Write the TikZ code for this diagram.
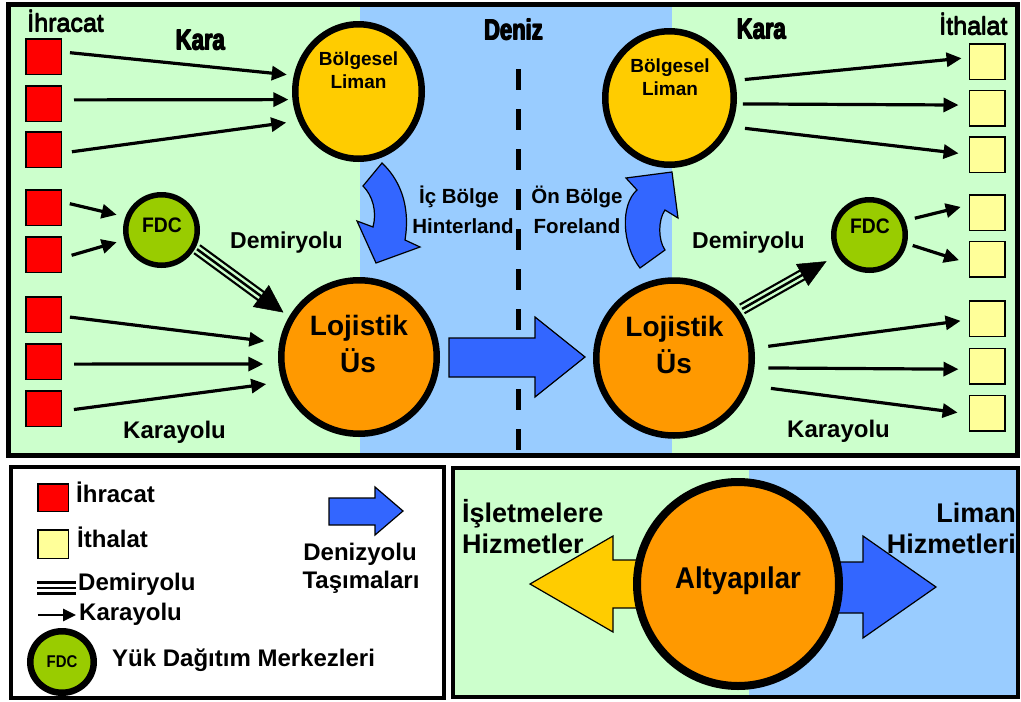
\documentclass[tikz,border=0pt]{standalone}
\usepackage{graphicx}
\usepackage{fontspec}
\setmainfont{Liberation Sans}
\usetikzlibrary{shapes.geometric,arrows.meta}
\definecolor{land}{HTML}{CCFFCC}
\definecolor{sea}{HTML}{99CCFF}
\definecolor{expred}{HTML}{FF0000}
\definecolor{impyel}{HTML}{FFFF99}
\definecolor{portyel}{HTML}{FFCC00}
\definecolor{huborg}{HTML}{FF9900}
\definecolor{fdcgrn}{HTML}{99CC00}
\definecolor{arrblue}{HTML}{3366FF}
\newcommand\bsz[1]{\bfseries\fontsize{#1}{#1}\selectfont}
\newcommand\rsz[1]{\mdseries\fontsize{#1}{#1}\selectfont}
\newcommand\heavy[2]{\makebox[0pt][l]{\hspace{#1}#2}\makebox[0pt][l]{\hspace{#1}\raisebox{0.4pt}{#2}}\makebox[0pt][l]{\raisebox{0.4pt}{#2}}#2}
\newcommand\cond[1]{\scalebox{0.76}[1]{\heavy{1.3pt}{#1}}}
\begin{document}
\begin{tikzpicture}[x=1pt,y=-1pt,
  sq/.style={draw=black, line width=1.5pt, minimum size=35.5pt, inner sep=0pt},
  exsq/.style={sq, fill=expred},
  imsq/.style={sq, fill=impyel},
  ell/.style={ellipse, draw=black, inner sep=0pt},
  road/.style={line width=3.2pt, -{Triangle[length=15pt,width=14pt]}},
  blk/.style={fill=arrblue, draw=black, line width=1.2pt, line join=miter},
  lbl/.style={inner sep=0pt, anchor=base},
  lblw/.style={inner sep=0pt, anchor=base west},
  lble/.style={inner sep=0pt, anchor=base east},
]
\fill[white] (0,0) rectangle (1021,702);
\useasboundingbox (0,0) rectangle (1021,702);

% ---------- top panel ----------
\fill[land] (8,4) rectangle (1017,455);
\fill[sea] (360,4) rectangle (672,455);
\draw[line width=5pt] (8,4) rectangle (1017,455);
\draw[line width=5pt, dash pattern=on 21pt off 19pt] (518,69) -- (518,451);

% squares
\node[exsq] (L1) at (43.5,56.5) {};
\node[exsq] (L2) at (43.5,103.5) {};
\node[exsq] (L3) at (43.5,149.5) {};
\node[exsq] (L4) at (43.5,207.5) {};
\node[exsq] (L5) at (43.5,254.5) {};
\node[exsq] (L6) at (43.5,314.5) {};
\node[exsq] (L7) at (43.5,361.5) {};
\node[exsq] (L8) at (43.5,408.5) {};
\node[imsq] (Y1) at (987,61.5) {};
\node[imsq] (Y2) at (987,108) {};
\node[imsq] (Y3) at (987,154.5) {};
\node[imsq] (Y4) at (987,212.5) {};
\node[imsq] (Y5) at (987,259) {};
\node[imsq] (Y6) at (987,318.5) {};
\node[imsq] (Y7) at (987,366) {};
\node[imsq] (Y8) at (987,413) {};

% circles
\node[ell, fill=portyel, line width=6.5pt, minimum width=126.5pt, minimum height=134.5pt] (BL) at (358.5,91.5) {};
\node[ell, fill=portyel, line width=6.5pt, minimum width=128.5pt, minimum height=133.5pt] (BR) at (669.5,98) {};
\node[ell, fill=huborg, line width=6.5pt, minimum width=155.5pt, minimum height=153.5pt] (LL) at (359,357) {};
\node[ell, fill=huborg, line width=6.5pt, minimum width=155.5pt, minimum height=155pt] (LR) at (674,358) {};
\node[ell, fill=fdcgrn, line width=5.5pt, minimum width=71.5pt, minimum height=70.5pt] (FL) at (161.5,230) {};
\node[ell, fill=fdcgrn, line width=5.5pt, minimum width=71.5pt, minimum height=70.5pt] (FR) at (869.5,235) {};

% road arrows left
\draw[road, shorten <=8pt, shorten >=7pt] (L1.14) -- (BL.166);
\draw[road, shorten <=12pt, shorten >=4pt] (L2.11) -- (BL.187);
\draw[road, shorten <=10pt, shorten >=12pt] (L3.349) -- (BL.206);
\draw[road, shorten <=8pt, shorten >=9pt] (L4.17) -- (FL.160);
\draw[road, shorten <=10pt, shorten >=8pt] (L5.349) -- (FL.195);
\draw[road, shorten <=8pt, shorten >=15pt] (L6.355) -- (LL.170);
\draw[road, shorten <=12pt, shorten >=15pt] (L7.352) -- (LL.185);
\draw[road, shorten <=12pt, shorten >=16pt] (L8.352) -- (LL.198);
% road arrows right
\draw[road, shorten <=10pt, shorten >=7pt] (BR.15) -- (Y1.168);
\draw[road, shorten <=6pt, shorten >=10pt] (BR.355) -- (Y2.171);
\draw[road, shorten <=14pt, shorten >=10pt] (BR.335) -- (Y3.180);
\draw[road, shorten <=10pt, shorten >=8pt] (FR.22) -- (Y4.158);
\draw[road, shorten <=6pt, shorten >=10pt] (FR.347) -- (Y5.193);
\draw[road, shorten <=14pt, shorten >=8pt] (LR.7) -- (Y6.184);
\draw[road, shorten <=14pt, shorten >=10pt] (LR.353) -- (Y7.190);
\draw[road, shorten <=21pt, shorten >=11pt] (LR.340) -- (Y8.183);

% rail arrows
\draw[line width=12pt, shorten <=2pt, shorten >=31pt] (FL.332) -- (LL.150);
\draw[line width=7.5pt, land, shorten <=1pt, shorten >=30pt] (FL.332) -- (LL.150);
\draw[line width=2.5pt, shorten <=2pt, shorten >=31pt] (FL.332) -- (LL.150);
\draw[line width=0.5pt, shorten <=60pt, shorten >=7pt, -{Triangle[length=28pt,width=27pt]}] (FL.332) -- (LL.150);

\draw[line width=12pt, shorten <=3pt, shorten >=36pt] (LR.36) -- (FR.212);
\draw[line width=7.5pt, land, shorten <=2pt, shorten >=35pt] (LR.36) -- (FR.212);
\draw[line width=2.5pt, shorten <=3pt, shorten >=36pt] (LR.36) -- (FR.212);
\draw[line width=0.5pt, shorten <=60pt, shorten >=12pt, -{Triangle[length=28pt,width=25pt]}] (LR.36) -- (FR.212);

% sea arrow
\draw[blk] (449,338) -- (535,338) -- (535,317) -- (585,357) -- (535,397) -- (535,377) -- (449,377) -- cycle;
% curved arrows
\draw[blk] (382,163) .. controls (398,178) and (411,203) .. (405,240) -- (420,247) -- (376,263) -- (357,221) -- (373,227) .. controls (377,212) and (373,196) .. (363,186) -- cycle;
\draw[blk] (640,268) .. controls (622,245) and (620,205) .. (637,190) -- (626,178) -- (672,172) -- (678,218) -- (665,210) .. controls (658,220) and (658,240) .. (665,250) -- cycle;

% texts top
\node[lblw, font=\rsz{25}] (tIhr) at (27,32) {\heavy{0.5pt}{İhracat}};
\node[lblw, font=\rsz{25}] (tIth) at (939,35) {\heavy{0.5pt}{İthalat}};
\node[lbl, font=\bsz{29}] (tKara1) at (200,50) {\cond{Kara}};
\node[lbl, font=\bsz{29}] (tDeniz) at (513,40) {\cond{Deniz}};
\node[lbl, font=\bsz{29}] (tKara2) at (761,39) {\cond{Kara}};
\node[lbl, font=\bsz{19}] (tBL1) at (358.5,65) {Bölgesel};
\node[lbl, font=\bsz{19}] (tBL2) at (358.5,88) {Liman};
\node[lbl, font=\bsz{19}] (tBR1) at (670,72) {Bölgesel};
\node[lbl, font=\bsz{19}] (tBR2) at (670,95) {Liman};
\node[lbl, font=\bsz{21}] (tFL) at (162,232) {\scalebox{0.92}[1]{FDC}};
\node[lbl, font=\bsz{21}] (tFR) at (870,233) {\scalebox{0.92}[1]{FDC}};
\node[lbl, font=\bsz{28}] (tLL1) at (359,335) {Lojistik};
\node[lbl, font=\bsz{28}] (tLL2) at (358,372) {Üs};
\node[lbl, font=\bsz{28}] (tLR1) at (674.5,336) {Lojistik};
\node[lbl, font=\bsz{28}] (tLR2) at (674,373) {Üs};
\node[lblw, font=\bsz{23}] (tDL) at (230,248) {Demiryolu};
\node[lblw, font=\bsz{23}] (tDR) at (692,248) {Demiryolu};
\node[lblw, font=\bsz{24}] (tKL) at (123,438) {Karayolu};
\node[lblw, font=\bsz{24}] (tKR) at (787,437) {Karayolu};
\node[lbl, font=\bsz{20.5}] (tIc) at (459,203) {İç Bölge};
\node[lbl, font=\bsz{20.5}] (tHin) at (463,233) {Hinterland};
\node[lbl, font=\bsz{20.5}] (tOn) at (577,203) {Ön Bölge};
\node[lbl, font=\bsz{20.5}] (tFor) at (577,233) {Foreland};

% ---------- legend panel ----------
\draw[line width=4pt, fill=white] (11,467) rectangle (444,698);
\node[sq, fill=expred, minimum width=30.5pt, minimum height=27.5pt] (lgE) at (53,497.5) {};
\node[sq, fill=impyel, minimum width=30.5pt, minimum height=28.5pt] (lgI) at (53,544) {};
\node[lblw, font=\bsz{24}] (tlgE) at (76,502) {İhracat};
\node[lblw, font=\bsz{24}] (tlgI) at (77,547) {İthalat};
\coordinate (rs) at (37,588);
\coordinate (re) at (76,588);
\draw[line width=2.2pt] ([yshift=5.5pt]rs) -- ([yshift=5.5pt]re);
\draw[line width=2.2pt] (rs) -- (re);
\draw[line width=2.2pt] ([yshift=-5.5pt]rs) -- ([yshift=-5.5pt]re);
\node[lblw, font=\bsz{24}] (tlgD) at (78,590) {Demiryolu};
\coordinate (as) at (38,615);
\coordinate (ae) at (76,615);
\draw[line width=2.8pt, -{Triangle[length=13pt,width=12pt]}] (as) -- (ae);
\node[lblw, font=\bsz{24}] (tlgK) at (79,620) {Karayolu};
\node[ell, fill=fdcgrn, line width=6.5pt, minimum width=63.5pt, minimum height=61.5pt] (lgF) at (62,662) {};
\node[lbl, font=\bsz{17}] (tlgF) at (62,667) {\scalebox{0.88}[1]{FDC}};
\node[lblw, font=\bsz{24}] (tlgY) at (112,666) {Yük Dağıtım Merkezleri};
\draw[blk] (329,498) -- (375,498) -- (375,487) -- (403,511) -- (375,535) -- (375,525) -- (329,525) -- cycle;
\node[lbl, font=\bsz{24}] (tlgS1) at (360,560) {Denizyolu};
\node[lbl, font=\bsz{24}] (tlgS2) at (361,588) {Taşımaları};

% ---------- bottom right panel ----------
\fill[land] (453,468) rectangle (749,697);
\fill[sea] (749,468) rectangle (1018,697);
\draw[line width=4pt] (453,468) rectangle (1018,697);
\draw[fill=portyel, draw=black, line width=1.2pt, line join=miter] (680,560) -- (613,560) -- (613,536) -- (530,584) -- (613,632) -- (613,608) -- (680,608) -- cycle;
\draw[blk] (800,562) -- (863,562) -- (863,536) -- (936,587) -- (863,638) -- (863,613) -- (800,613) -- cycle;
\node[ell, fill=huborg, line width=8pt, minimum width=202pt, minimum height=204pt] (Alt) at (738,584) {};
\node[lbl, font=\bsz{30}] (tAlt) at (738,588) {\scalebox{0.92}[1]{Altyapılar}};
\node[lblw, font=\bsz{27}] (tIs1) at (462,522) {İşletmelere};
\node[lblw, font=\bsz{27}] (tIs2) at (462,553) {Hizmetler};
\node[lble, font=\bsz{27}] (tLm1) at (1016,522) {Liman};
\node[lble, font=\bsz{27}] (tLm2) at (1016,553) {Hizmetleri};
\end{tikzpicture}
\end{document}
